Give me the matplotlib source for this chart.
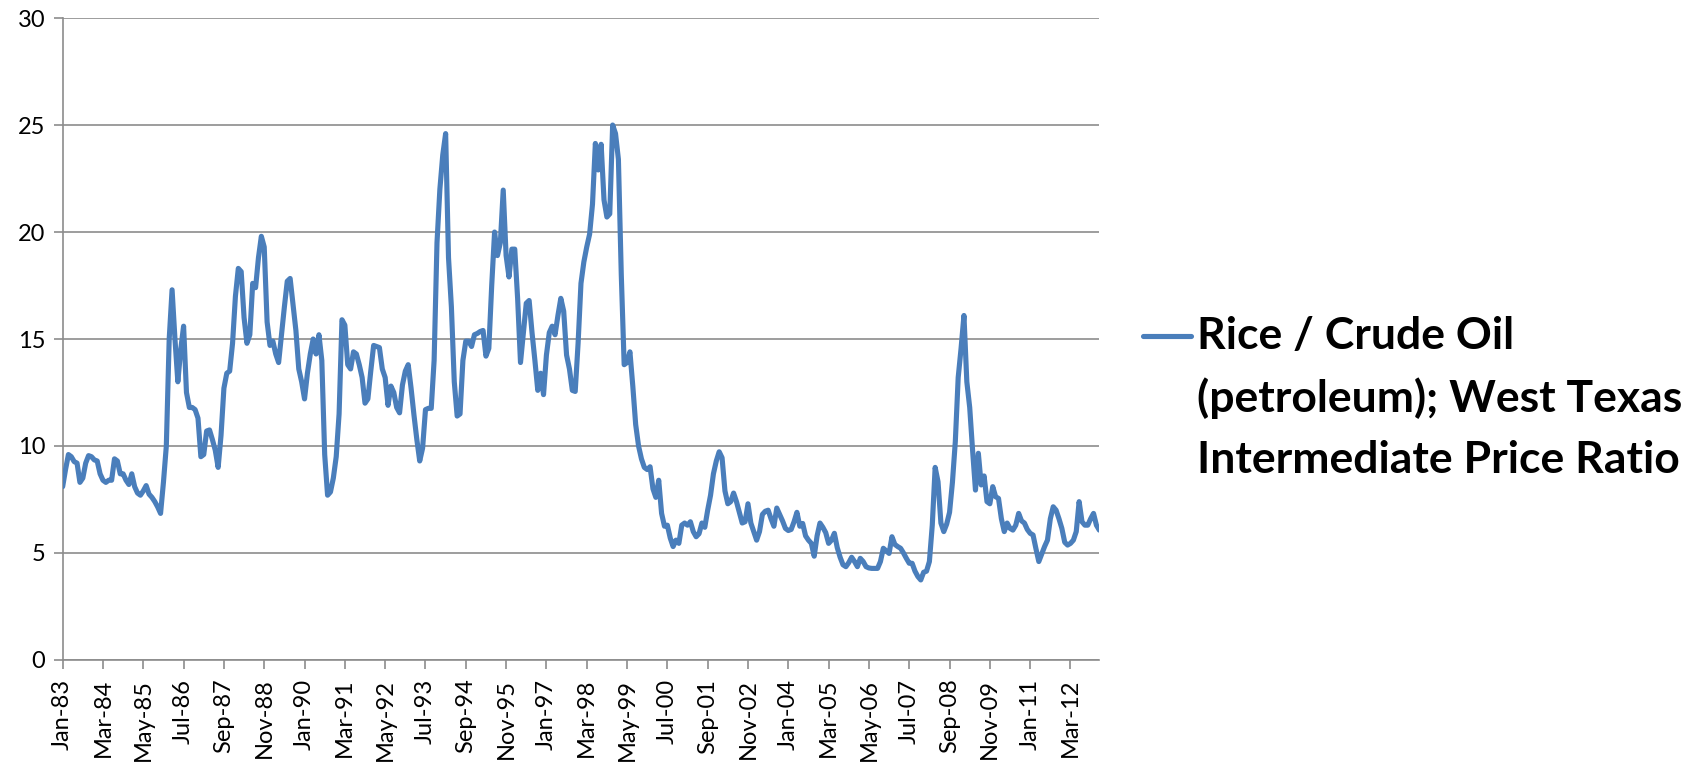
import matplotlib
matplotlib.use("Agg")
import matplotlib.pyplot as plt
from matplotlib.lines import Line2D
import numpy as np
import pandas as pd

# Monthly rice / WTI crude oil price ratio, Jan-1983 onwards
ratio_1983_1992 = [
    8.1, 8.9, 9.6, 9.5, 9.27, 9.2, 8.3, 8.5, 9.2, 9.55, 9.5, 9.35,      # 1983
    9.3, 8.7, 8.4, 8.3, 8.4, 8.4, 9.4, 9.3, 8.7, 8.7, 8.4, 8.2,         # 1984
    8.7, 8.1, 7.8, 7.7, 7.9, 8.15, 7.75, 7.6, 7.4, 7.15, 6.85, 8.3,     # 1985
    10.0, 15.0, 17.3, 15.0, 13.0, 14.5, 15.6, 12.5, 11.8, 11.8, 11.7, 11.3,  # 1986
    9.5, 9.6, 10.7, 10.75, 10.3, 9.8, 9.0, 10.5, 12.7, 13.4, 13.5, 14.8,     # 1987
    17.0, 18.3, 18.15, 16.0, 14.8, 15.2, 17.6, 17.4, 18.8, 19.8, 19.3, 15.8, # 1988
    14.7, 14.9, 14.3, 13.9, 15.2, 16.5, 17.7, 17.83, 16.6, 15.4, 13.6, 13.0, # 1989
    12.2, 13.4, 14.3, 15.0, 14.3, 15.2, 14.0, 9.6, 7.7, 7.85, 8.5, 9.5,      # 1990
    11.5, 15.9, 15.65, 13.8, 13.6, 14.4, 14.3, 13.8, 13.2, 12.0, 12.2, 13.5, # 1991
    14.7, 14.65, 14.6, 13.6, 13.2, 11.9, 12.8, 12.5, 11.8, 11.55, 12.85, 13.5,  # 1992
]

ratio_1993_2002 = [
    13.8, 12.7, 11.45, 10.3, 9.3, 9.9, 11.7, 11.76, 11.76, 14.0, 19.5, 22.0,   # 1993
    23.6, 24.6, 18.8, 16.5, 13.0, 11.4, 11.5, 14.0, 14.9, 14.9, 14.65, 15.2,   # 1994
    15.26, 15.35, 15.4, 14.2, 14.56, 17.5, 20.0, 18.9, 19.5, 21.96, 18.9, 17.9, # 1995
    19.2, 19.2, 16.9, 13.9, 15.3, 16.67, 16.8, 15.3, 14.0, 12.6, 13.4, 12.4,   # 1996
    14.25, 15.3, 15.6, 15.2, 16.1, 16.9, 16.3, 14.25, 13.6, 12.6, 12.55, 14.8, # 1997
    17.6, 18.6, 19.3, 19.9, 21.3, 24.14, 22.9, 24.1, 21.5, 20.7, 20.85, 25.0,  # 1998
    24.6, 23.4, 18.0, 13.8, 13.9, 14.4, 12.8, 11.0, 10.0, 9.4, 9.0, 8.9,       # 1999
    9.03, 8.0, 7.6, 8.4, 6.85, 6.25, 6.3, 5.7, 5.3, 5.6, 5.45, 6.3,            # 2000
    6.4, 6.3, 6.46, 6.0, 5.76, 5.9, 6.4, 6.2, 7.0, 7.7, 8.7, 9.3,              # 2001
    9.73, 9.45, 7.9, 7.3, 7.4, 7.8, 7.4, 6.9, 6.4, 6.46, 7.3, 6.4,             # 2002
]

ratio_2003_2013 = [
    6.0, 5.6, 6.0, 6.8, 6.95, 7.0, 6.6, 6.25, 7.1, 6.8, 6.5, 6.15,            # 2003
    6.05, 6.1, 6.46, 6.9, 6.25, 6.38, 5.8, 5.6, 5.45, 4.85, 5.8, 6.4,          # 2004
    6.2, 5.95, 5.45, 5.6, 5.92, 5.25, 4.8, 4.45, 4.36, 4.55, 4.8, 4.6,         # 2005
    4.36, 4.75, 4.6, 4.36, 4.3, 4.28, 4.28, 4.28, 4.6, 5.22, 5.1, 4.98,        # 2006
    5.76, 5.4, 5.3, 5.22, 5.0, 4.75, 4.52, 4.52, 4.15, 3.9, 3.74, 4.1,         # 2007
    4.15, 4.6, 6.3, 9.0, 8.33, 6.4, 6.0, 6.35, 6.9, 8.3, 10.2, 13.2,           # 2008
    14.56, 16.1, 13.0, 11.8, 9.8, 7.94, 9.66, 8.18, 8.6, 7.4, 7.3, 8.1,        # 2009
    7.63, 7.55, 6.6, 6.0, 6.4, 6.15, 6.07, 6.3, 6.85, 6.5, 6.4, 6.1,           # 2010
    5.92, 5.84, 5.2, 4.6, 4.95, 5.3, 5.6, 6.6, 7.16, 7.0, 6.6, 6.15,           # 2011
    5.5, 5.37, 5.45, 5.6, 6.0, 7.4, 6.46, 6.3, 6.3, 6.6, 6.85, 6.3,            # 2012
    6.07,                                                                      # 2013
]

series_label = "Rice / Crude Oil\n(petroleum); West Texas\nIntermediate Price Ratio"
first_month = "1983-01"
tick_step = 14  # months between category labels

values = np.array(ratio_1983_1992 + ratio_1993_2002 + ratio_2003_2013)
months = pd.date_range(first_month, periods=len(values), freq="MS")
month_labels = months.strftime("%b-%y")
x = np.arange(len(values))

FONT = "Lato"
GRID = "#8c8c8c"
LINE = "#4a7ebb"

fig = plt.figure(figsize=(16.98, 7.71), dpi=100)
ax = fig.add_axes([0.0369, 0.144, 0.6105, 0.8326])

ax.plot(x, values, color=LINE, lw=3.7, solid_joinstyle="round",
        solid_capstyle="round", zorder=3)

ax.set_xlim(0, len(values) - 1)
ax.set_ylim(0, 30)
ax.set_yticks(np.arange(0, 31, 5))
ax.yaxis.grid(True, color=GRID, lw=1.2)
ax.set_axisbelow(True)

tick_pos = x[::tick_step]
ax.set_xticks(tick_pos)
ax.set_xticklabels(month_labels[::tick_step], rotation=90)

for side in ("top", "right"):
    ax.spines[side].set_visible(False)
for side in ("left", "bottom"):
    ax.spines[side].set_color(GRID)
    ax.spines[side].set_linewidth(1.2)

ax.tick_params(axis="both", colors=GRID, width=1.2, length=6.5, direction="out")
ax.tick_params(axis="y", labelsize=17, labelcolor="black", pad=6)
ax.tick_params(axis="x", labelsize=17, labelcolor="black", pad=7)
for lab in ax.get_xticklabels() + ax.get_yticklabels():
    lab.set_fontfamily(FONT)

# Legend entry: line sample beside the series name
fig.add_artist(Line2D([1143 / 1698, 1191 / 1698], [1 - 336 / 771, 1 - 336 / 771],
                      transform=fig.transFigure, color=LINE, lw=3.7,
                      solid_capstyle="round"))
fig.text(1197 / 1698, 1 - 316 / 771, series_label, ha="left", va="top",
         fontsize=32, fontweight="bold", family=FONT, linespacing=1.62)

fig.savefig("out.png", dpi=100, facecolor="white")
